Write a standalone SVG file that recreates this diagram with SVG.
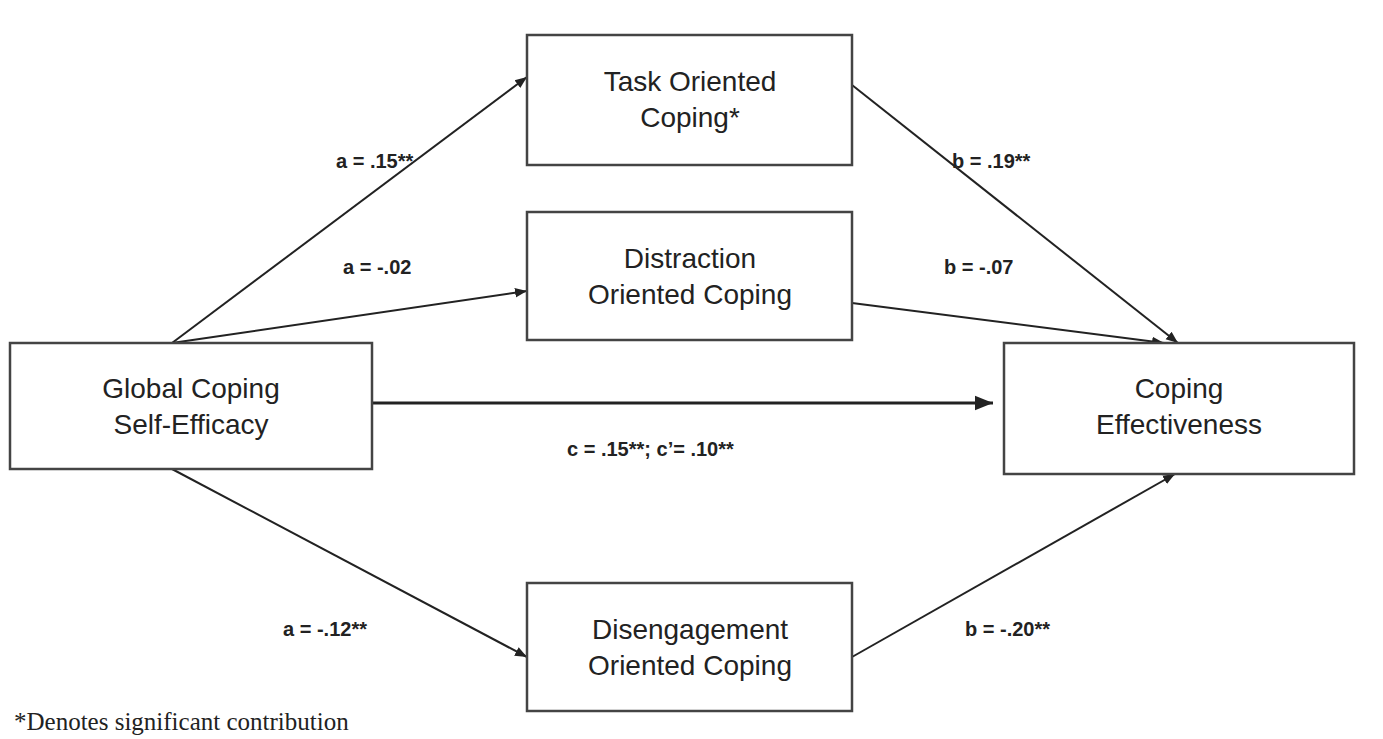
<svg xmlns="http://www.w3.org/2000/svg" width="1383" height="739" viewBox="0 0 1383 739">
<style>
.box{fill:#fff;stroke:#444;stroke-width:2.5}
.t{font-family:"Liberation Sans",Arial,sans-serif;font-size:28px;fill:#222;text-anchor:middle}
.l{font-family:"Liberation Sans",Arial,sans-serif;font-size:20px;font-weight:bold;fill:#222}
.c{stroke:#222;stroke-width:2;fill:none;marker-end:url(#ah)}
</style>
<defs><marker id="ah" viewBox="0 0 10 10" refX="10" refY="5" markerWidth="6" markerHeight="6" orient="auto" markerUnits="strokeWidth"><path d="M0,1 L10,5 L0,9 z" fill="#222"/></marker></defs>
<rect width="1383" height="739" fill="#fff"/>
<g id="connectors">
<line class="c" x1="172" y1="343" x2="527" y2="77"/>
<line class="c" x1="172" y1="343" x2="527" y2="291"/>
<line class="c" x1="372" y1="403" x2="993" y2="403" style="stroke-width:3"/>
<line class="c" x1="172" y1="469" x2="527" y2="657"/>
<line class="c" x1="852" y1="85" x2="1178" y2="343"/>
<line class="c" x1="852" y1="303" x2="1164" y2="343"/>
<line class="c" x1="852" y1="657" x2="1175" y2="474"/>
</g>
<g id="task"><rect class="box" x="527" y="35" width="325" height="130"/><text class="t" x="690" y="91">Task Oriented</text><text class="t" x="690" y="127">Coping*</text></g>
<g id="distraction"><rect class="box" x="527" y="212" width="325" height="128"/><text class="t" x="690" y="268">Distraction</text><text class="t" x="690" y="304">Oriented Coping</text></g>
<g id="global"><rect class="box" x="10" y="343" width="362" height="126"/><text class="t" x="191" y="398">Global Coping</text><text class="t" x="191" y="434">Self-Efficacy</text></g>
<g id="effect"><rect class="box" x="1004" y="343" width="350" height="131"/><text class="t" x="1179" y="398">Coping</text><text class="t" x="1179" y="434">Effectiveness</text></g>
<g id="disengage"><rect class="box" x="527" y="583" width="325" height="128"/><text class="t" x="690" y="639">Disengagement</text><text class="t" x="690" y="675">Oriented Coping</text></g>
<g id="labels">
<text class="l" x="336" y="168">a = .15**</text>
<text class="l" x="343" y="274">a = -.02</text>
<text class="l" x="567" y="456">c = .15**; c’= .10**</text>
<text class="l" x="283" y="636">a = -.12**</text>
<text class="l" x="952" y="168">b = .19**</text>
<text class="l" x="944" y="274">b = -.07</text>
<text class="l" x="965" y="636">b = -.20**</text>
</g>
<text x="14" y="730" style="font-family:'Liberation Serif',serif;font-size:25px;fill:#222">*Denotes significant contribution</text>
</svg>
